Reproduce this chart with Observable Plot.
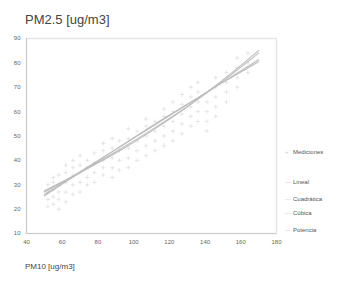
<!DOCTYPE html>
<html><head><meta charset="utf-8">
<script src="https://cdn.jsdelivr.net/npm/d3@7"></script>
<script src="https://cdn.jsdelivr.net/npm/@observablehq/plot@0.6"></script>
<style>
body{margin:0;background:#fff;font-family:"Liberation Sans",Arial,sans-serif;}
#wrap{position:relative;width:342px;height:282px;overflow:hidden;}
#title{position:absolute;left:25px;top:12px;font-size:13px;color:#444;}
#xlab{position:absolute;left:25px;top:262px;font-size:8px;color:#444;}
.leg{position:absolute;left:285px;font-size:6px;color:#555;white-space:nowrap;}
.leg span{display:inline-block;width:8px;color:#ccc;}
</style></head>
<body><div id="wrap"><div id="title">PM2.5 [ug/m3]</div><div id="xlab">PM10 [ug/m3]</div></div>
<script>
const pm10 = [52,52,52,52, 55,55,55,55,55, 58,58,58,58,58, 62,62,62,62,62, 66,66,66,66,66, 70,70,70,70,70, 74,74,74,74, 78,78,78,78, 83,83,83,83,83, 88,88,88,88,88, 92,92,92,92, 97,97,97,97,97, 102,102,102,102, 107,107,107,107,107, 112,112,112,112, 117,117,117,117,117, 122,122,122,122,122, 127,127,127,127,127, 132,132,132,132,132, 136,136,136,136,136, 141,141,141,141, 146,146,146,146,146, 152,152,152,152, 158,158,158,158, 164,164,164];
const pm25 = [21,24,27,30, 22,25,28,31,33, 20,24,27,30,34, 23,27,31,35,38, 26,30,34,37,40, 27,31,35,38,42, 30,33,37,40, 31,35,39,43, 34,37,40,44,47, 33,37,41,45,49, 36,40,44,48, 37,41,45,49,53, 40,44,48,52, 42,46,50,54,57, 44,48,52,56, 46,50,54,58,61, 48,52,56,60,64, 51,55,59,63,67, 54,58,62,66,70, 56,60,64,68,72, 52,56,60,64, 58,62,66,70,74, 64,68,72,76, 70,74,78,82, 76,80,84];
const fitX = [50,70,90,110,130,150,170];
const lineal = [26,35.3,44.5,53.7,62.9,72.1,81.3];
const cuadratica = [27,35,43.5,52.5,62,72.5,84];
const cubica = [27.5,35,43,52,62,73,85];
const potencia = [25.5,35,44.5,54,63,72,80.5];
const legendLabels = ["Mediciones","Lineal","Cuadrática","Cúbica","Potencia"];
const xTicks = [40,60,80,100,120,140,160,180];
const yTicks = [10,20,30,40,50,60,70,80,90];

const meas = pm10.map((x,i)=>({x, y: pm25[i]}));
const fits = [];
[["Lineal",lineal],["Cuadrática",cuadratica],["Cúbica",cubica],["Potencia",potencia]].forEach(([m,arr])=>{
  fitX.forEach((x,i)=>fits.push({model:m, x, y:arr[i]}));
});

const chart = Plot.plot({
  width: 342, height: 282,
  marginLeft: 26, marginTop: 38, marginRight: 66, marginBottom: 49,
  style: {fontFamily: "Liberation Sans, Arial, sans-serif", fontSize: "6px", color: "#666", background: "transparent"},
  x: {domain: [40,180], ticks: xTicks, label: null, tickSize: 0, tickPadding: 6},
  y: {domain: [10,90], ticks: yTicks, label: null, tickSize: 0, tickPadding: 6},
  marks: [
    Plot.frame({stroke: "#e6e6e6", strokeWidth: 1.5}),
    Plot.ruleX([40], {stroke: "#ccc"}),
    Plot.ruleY([10], {stroke: "#ccc"}),
    Plot.dot(meas, {x: "x", y: "y", symbol: "plus", r: 1.5, stroke: "#dcdcdc", strokeWidth: 0.7}),
    Plot.line(fits, {x: "x", y: "y", z: "model", stroke: "#bdbdbd", strokeWidth: 1.1, curve: "catmull-rom"})
  ]
});
const wrap = document.getElementById("wrap");
chart.style.position = "absolute"; chart.style.left = "0"; chart.style.top = "0";
wrap.prepend(chart);
const ys = [149,179,196,210,227];
legendLabels.forEach((t,i)=>{
  const d = document.createElement("div");
  d.className = "leg"; d.style.top = ys[i] + "px";
  d.innerHTML = "<span>" + (i===0 ? "+" : "—") + "</span>" + t;
  wrap.appendChild(d);
});
</script></body></html>
